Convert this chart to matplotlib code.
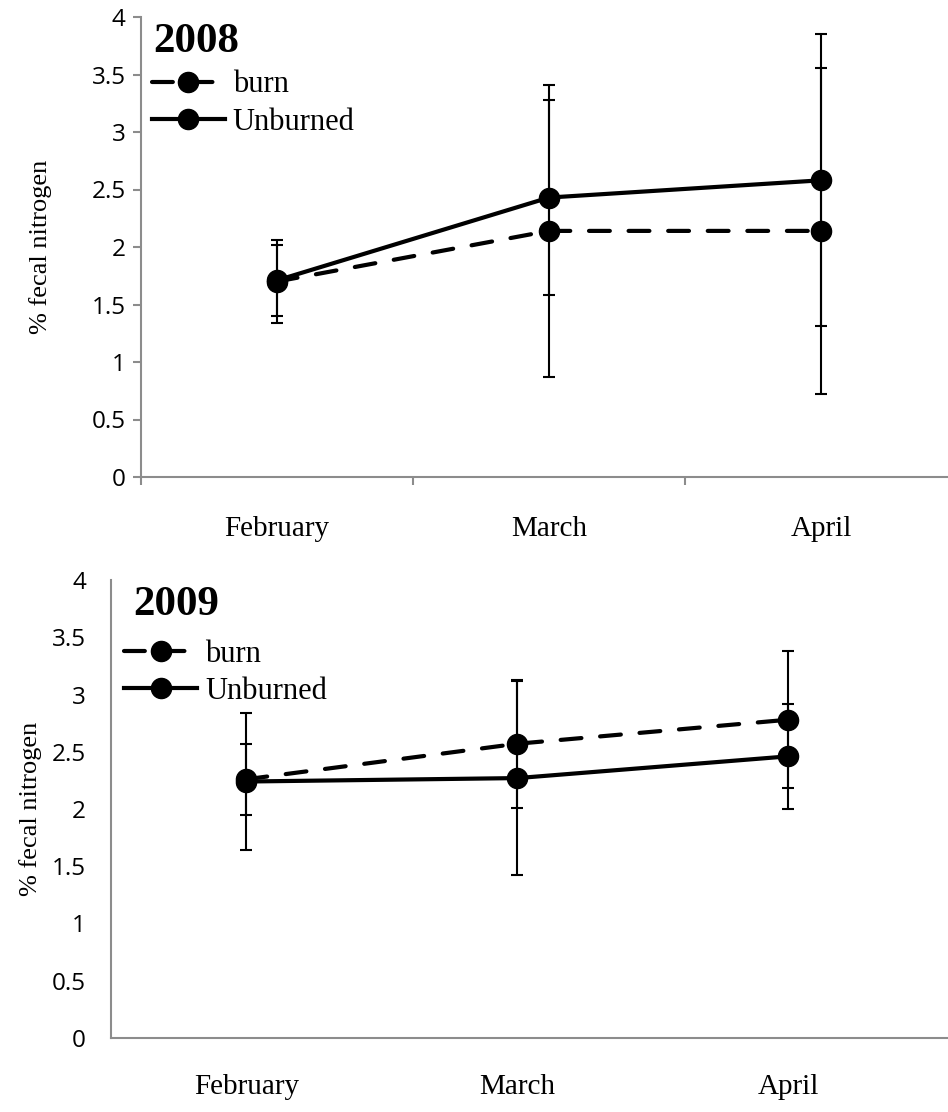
import matplotlib
matplotlib.use("Agg")
import matplotlib.pyplot as plt
import numpy as np

# data
months = ["February", "March", "April"]

burn_2008 = [1.70, 2.14, 2.14]
burn_2008_err = [0.36, 1.27, 1.42]
unburned_2008 = [1.71, 2.43, 2.58]
unburned_2008_err = [0.31, 0.85, 1.27]

burn_2009 = [2.26, 2.57, 2.78]
burn_2009_err = [0.31, 0.56, 0.60]
unburned_2009 = [2.24, 2.27, 2.46]
unburned_2009_err = [0.60, 0.85, 0.46]

serif = "Liberation Serif"
sans = "Open Sans"
spine_color = "#8c8c8c"

fig = plt.figure(figsize=(9.48, 11.12), dpi=100)


def draw_panel(ax, year, burn, burn_err, unb, unb_err, ticks_on, title_xy, leg_xy, ylab_x, xmax):
    x = np.arange(len(months))
    ax.errorbar(x, burn, yerr=burn_err, fmt="none", ecolor="black",
                elinewidth=1.5, capsize=4.5, capthick=1.5, zorder=2)
    ax.errorbar(x, unb, yerr=unb_err, fmt="none", ecolor="black",
                elinewidth=1.5, capsize=4.5, capthick=1.5, zorder=2)
    ax.plot(x, burn, color="black", lw=3, ls=(0, (5, 4.5)), dash_capstyle="round",
            marker="o", ms=14.5, label="burn", zorder=3)
    ax.plot(x, unb, color="black", lw=3, ls="-", marker="o", ms=14.5,
            label="Unburned", zorder=3)

    ax.set_xlim(-0.5, xmax)
    ax.set_ylim(0, 4)
    ax.set_yticks(np.arange(0, 4.01, 0.5))
    ax.set_yticklabels(["0", "0.5", "1", "1.5", "2", "2.5", "3", "3.5", "4"],
                       fontfamily=sans, fontsize=17.5)
    ax.set_xticks(x)
    ax.set_xticklabels(months, fontfamily=serif, fontsize=21)

    for side in ["top", "right"]:
        ax.spines[side].set_visible(False)
    for side in ["left", "bottom"]:
        ax.spines[side].set_color(spine_color)
        ax.spines[side].set_linewidth(1.5)

    if ticks_on:
        ax.set_xticks([-0.5, 0.5, 1.5, 2.5], minor=True)
        ax.tick_params(axis="x", which="major", length=0, pad=28)
        ax.tick_params(axis="x", which="minor", length=6, width=1.5,
                       color=spine_color, direction="out")
        ax.tick_params(axis="y", length=6, width=1.5, color=spine_color, pad=5)
    else:
        ax.tick_params(axis="x", length=0, pad=26)
        ax.tick_params(axis="y", length=0, pad=18)

    ax.set_ylabel("% fecal nitrogen", fontfamily=serif, fontsize=19)
    ax.yaxis.set_label_coords(ylab_x, 0.5)

    ax.text(title_xy[0], title_xy[1], year, transform=ax.transAxes,
            fontfamily=serif, fontweight="bold", fontsize=31, va="center", ha="left")

    ax.legend(loc="upper left", bbox_to_anchor=leg_xy, frameon=False,
              prop={"family": serif, "size": 22}, handlelength=2.4,
              handletextpad=0.25, labelspacing=0.28, borderpad=0,
              borderaxespad=0, numpoints=1)


ax1 = fig.add_axes([141 / 948, 1 - 477 / 1112, 816 / 948, 460 / 1112])
draw_panel(ax1, "2008", burn_2008, burn_2008_err, unburned_2008, unburned_2008_err,
           True, (0.0147, 0.946), (0.013, 0.884), -0.109, 2.5)

ax2 = fig.add_axes([111 / 948, 1 - 1038 / 1112, 837 / 948, 458 / 1112])
draw_panel(ax2, "2009", burn_2009, burn_2009_err, unburned_2009, unburned_2009_err,
           False, (0.026, 0.945), (0.0155, 0.87), -0.082, 2.589)

fig.savefig("out.png", dpi=100)
